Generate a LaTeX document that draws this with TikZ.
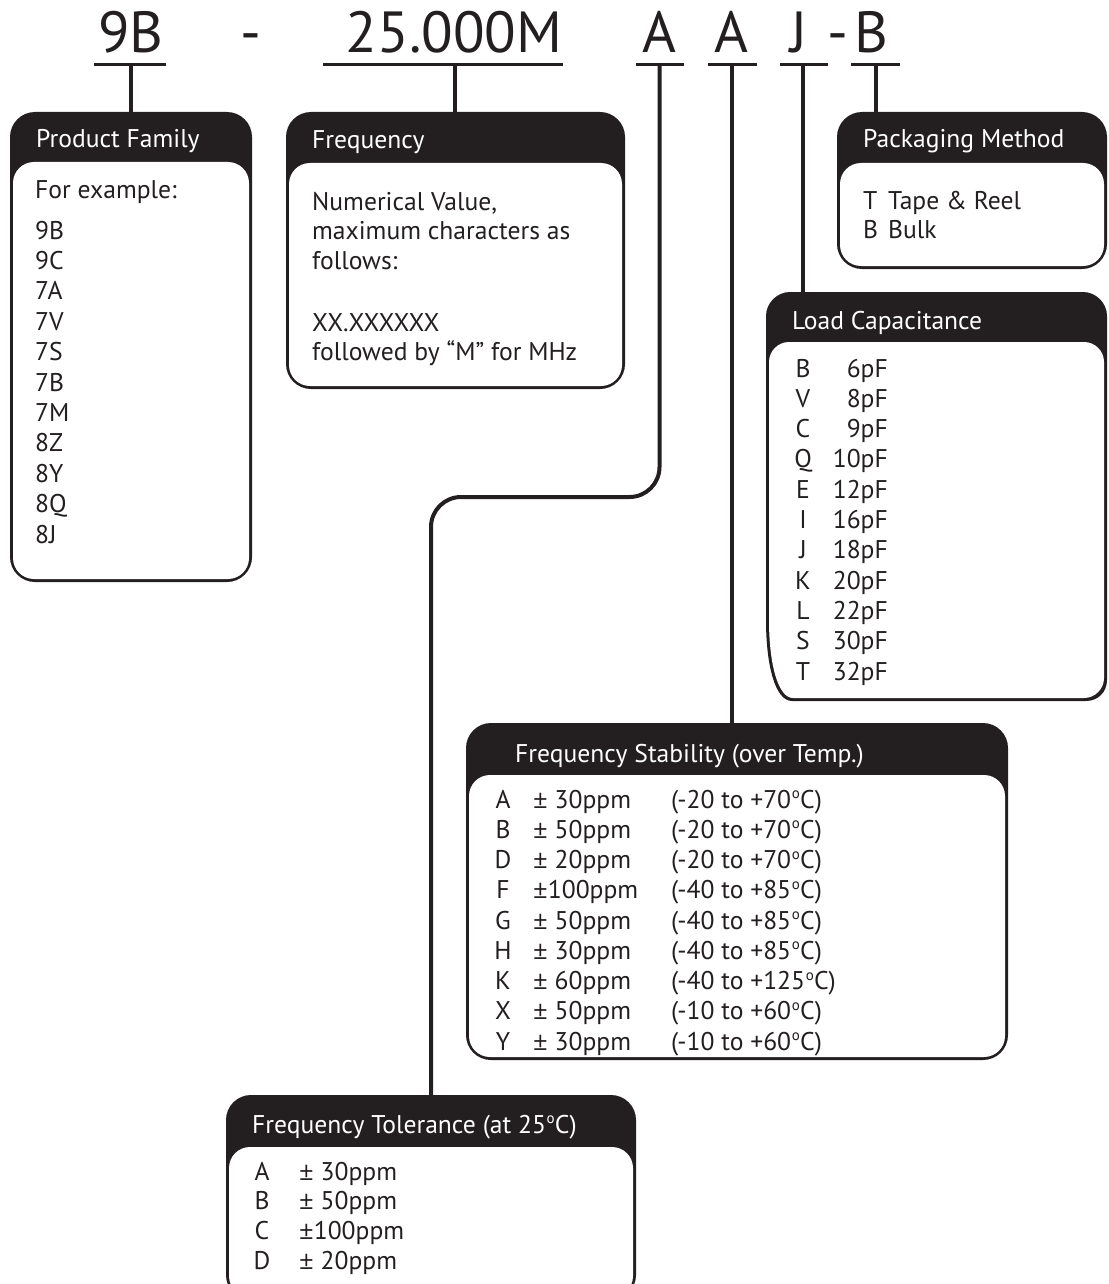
\documentclass[tikz,border=0pt]{standalone}
\usepackage{fontspec}
\setmainfont{PT Sans}
\newfontfamily\pmfont{Open Sans}
\definecolor{ink}{HTML}{231F20}
\newcommand\bodyfont{\fontsize{25.6}{30}\selectfont}
\newcommand\codefont{\fontsize{58}{60}\selectfont}
\newcommand\dg{\kern0.6pt\raisebox{9.5pt}{\fontsize{15}{15}\selectfont o}\kern0.3pt}
\newcommand\pmsign{{\pmfont ±}}
\tikzset{
  outerbox/.style={fill=ink, draw=none, rounded corners=25pt, inner sep=0pt, outer sep=0pt},
  innerbox/.style={fill=white, draw=none, rounded corners=21pt, inner sep=0pt, outer sep=0pt},
  boxtitle/.style={anchor=base west, text=white, inner sep=0pt, font=\bodyfont},
  bodytext/.style={anchor=base west, text=ink, inner sep=0pt, font=\bodyfont},
  codetext/.style={anchor=base, text=ink, inner sep=0pt, font=\codefont},
  uline/.style={draw=ink, line width=3pt},
  link/.style={draw=ink, line width=4pt},
}
% name, left, top, right, bottom, header bottom
\newcommand\specbox[6]{%
  \node[outerbox, anchor=north west, minimum width={(#4)-(#2)}, minimum height={(#5)-(#3)}] (#1) at (#2,#3) {};
  \node[innerbox, anchor=north west, minimum width={(#4)-(#2)-6}, minimum height={(#5)-(#6)-3}] (#1-in) at ({#2+3},#6) {};
}
\begin{document}
\begin{tikzpicture}[x=1pt,y=-1pt]
\useasboundingbox (0,0) rectangle (1108,1284);

% ---- code line ----
\node[codetext] (c9b) at (131,53) {9B};
\node[codetext] (cdash1) at (251,53) {-};
\node[codetext] (cfreq) at (454,53) {25.000M};
\node[codetext] (ca1) at (659,53) {A};
\node[codetext] (ca2) at (731,53) {A};
\node[codetext] (cj) at (799,53) {J};
\node[codetext] (cdash2) at (838,53) {-};
\node[codetext] (cb) at (871,53) {B};

\coordinate (u9b-l) at (94,65);   \coordinate (u9b-r) at (166,65);
\coordinate (ufr-l) at (323,65);  \coordinate (ufr-r) at (563,65);
\coordinate (ua1-l) at (636,65);  \coordinate (ua1-r) at (684,65);
\coordinate (ua2-l) at (708,65);  \coordinate (ua2-r) at (757,65);
\coordinate (uj-l) at (780,65);   \coordinate (uj-r) at (828,65);
\coordinate (ub-l) at (851,65);   \coordinate (ub-r) at (900,65);
\foreach \u in {u9b,ufr,ua1,ua2,uj,ub}
  \draw[uline] (\u-l) -- (\u-r);

\coordinate (u9b) at (131,65);
\coordinate (ufr) at (455,65);
\coordinate (ua1) at (659.5,65);
\coordinate (ua2) at (732,65);
\coordinate (uj) at (803,65);
\coordinate (ub) at (876,65);
\coordinate (jogR) at (659.5,497);
\coordinate (jogL) at (431,497);
\coordinate (ldtop) at (803,293);

% ---- boxes ----
\specbox{pf}{10}{112}{252}{582}{162}
\specbox{fr}{286}{112}{625}{389}{163}
\specbox{pk}{837}{112}{1107}{269}{163}
\specbox{st}{466}{723}{1008}{1060}{775}
\specbox{to}{226}{1095}{636}{1300}{1147}

% Load capacitance box (softer bottom-left corner)
\fill[ink] (766,620) -- (766,316) .. controls (766,303) and (777,292) .. (790,292)
  -- (1083,292) .. controls (1096,292) and (1107,303) .. (1107,316)
  -- (1107,680) .. controls (1107,692) and (1098,701) .. (1086,701)
  -- (792,701) .. controls (775,701) and (766,665) .. (766,620) -- cycle;
\fill[white] (769,620) -- (769,362) .. controls (769,351) and (778,342) .. (789,342)
  -- (1084,342) .. controls (1095,342) and (1104,351) .. (1104,362)
  -- (1104,678) .. controls (1104,689) and (1095,698) .. (1084,698)
  -- (793,698) .. controls (778,698) and (769,664) .. (769,620) -- cycle;

% ---- connectors ----
\draw[link] (u9b) -- (u9b |- pf.north);
\draw[link] (ufr) -- (ufr |- fr.north);
\draw[link, rounded corners=30pt] (ua1) -- (jogR) -- (jogL) -- (to.north);
\draw[link] (ua2) -- (ua2 |- st.north);
\draw[link] (uj) -- (ldtop);
\draw[link] (ub) -- (ub |- pk.north);

% ---- titles ----
\node[boxtitle] (pf-t) at (36,148) {Product Family};
\node[boxtitle] (fr-t) at (312,149) {Frequency};
\node[boxtitle] (pk-t) at (863,148) {Packaging Method};
\node[boxtitle] (ld-t) at (792,329) {Load Capacitance};
\node[boxtitle] (st-t) at (515,762) {Frequency Stability (over Temp.)};
\node[boxtitle] (to-t) at (252,1133) {Frequency Tolerance (at 25\dg C)};

% ---- product family ----
\node[bodytext] (pf-ex) at (35,198) {For example:};
\foreach \t [count=\i from 0] in {9B,9C,7A,7V,7S,7B,7M,8Z,8Y,8Q,8J}
  \node[bodytext] (pf-\i) at (35,{239+30.4*\i}) {\t};

% ---- frequency ----
\node[bodytext] (fr-1) at (312,210) {Numerical Value,};
\node[bodytext] (fr-2) at (312,239.5) {maximum characters as};
\node[bodytext] (fr-3) at (312,269) {follows:};
\node[bodytext] (fr-4) at (312,331) {XX.XXXXXX};
\node[bodytext] (fr-5) at (312,360) {followed by “M” for MHz};

% ---- packaging ----
\node[bodytext] (pk-l1) at (863,209) {T};
\node[bodytext] (pk-v1) at (888,209) {Tape \& Reel};
\node[bodytext] (pk-l2) at (863,238) {B};
\node[bodytext] (pk-v2) at (888,238) {Bulk};

% ---- load capacitance ----
\foreach \l/\v [count=\i from 0] in {B/6pF,V/8pF,C/9pF,Q/10pF,E/12pF,I/16pF,J/18pF,K/20pF,L/22pF,S/30pF,T/32pF}{
  \node[bodytext, anchor=base] (ld-l\i) at (803,{377+30.3*\i}) {\l};
  \node[bodytext, anchor=base east] (ld-v\i) at (888,{377+30.3*\i}) {\v};
}

% ---- stability ----
\foreach \l/\p/\t [count=\i from 0] in {
  A/{\pmsign\ 30ppm}/{(-20 to +70\dg C)},
  B/{\pmsign\ 50ppm}/{(-20 to +70\dg C)},
  D/{\pmsign\ 20ppm}/{(-20 to +70\dg C)},
  F/{\pmsign 100ppm}/{(-40 to +85\dg C)},
  G/{\pmsign\ 50ppm}/{(-40 to +85\dg C)},
  H/{\pmsign\ 30ppm}/{(-40 to +85\dg C)},
  K/{\pmsign\ 60ppm}/{(-40 to +125\dg C)},
  X/{\pmsign\ 50ppm}/{(-10 to +60\dg C)},
  Y/{\pmsign\ 30ppm}/{(-10 to +60\dg C)}}{
  \node[bodytext, anchor=base] (st-l\i) at (503,{808+30.25*\i}) {\l};
  \node[bodytext] (st-p\i) at (533,{808+30.25*\i}) {\p};
  \node[bodytext] (st-t\i) at (671,{808+30.25*\i}) {\t};
}

% ---- tolerance ----
\foreach \l/\p [count=\i from 0] in {A/{\pmsign\ 30ppm},B/{\pmsign\ 50ppm},C/{\pmsign 100ppm},D/{\pmsign\ 20ppm}}{
  \node[bodytext, anchor=base] (to-l\i) at (262,{1180+29.7*\i}) {\l};
  \node[bodytext] (to-p\i) at (299,{1180+29.7*\i}) {\p};
}
\end{tikzpicture}
\end{document}
